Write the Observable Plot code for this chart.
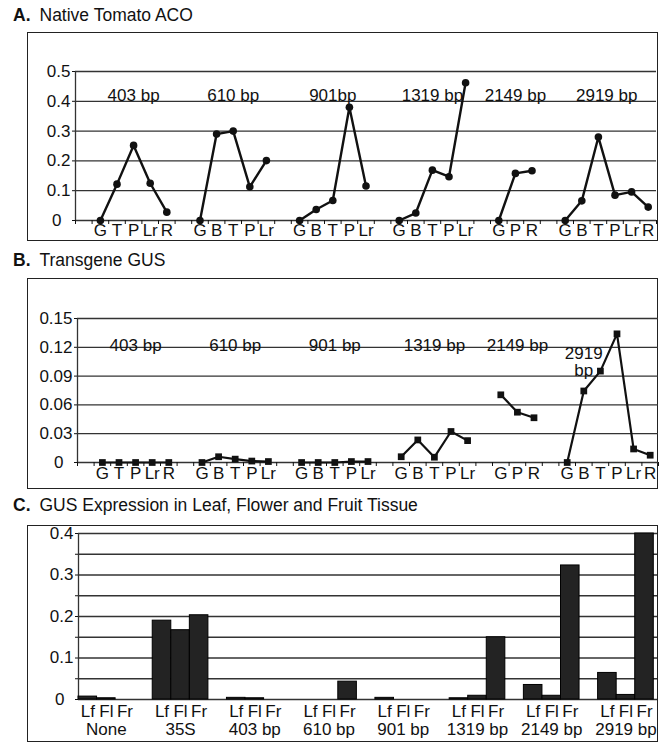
<!DOCTYPE html>
<html><head><meta charset="utf-8">
<script src="https://cdn.jsdelivr.net/npm/d3@7"></script>
<script src="https://cdn.jsdelivr.net/npm/@observablehq/plot@0.6"></script>
<style>
body{margin:0;background:#fff;font-family:"Liberation Sans",Arial,Helvetica,sans-serif;}
#root{position:relative;width:669px;height:742px;overflow:hidden;background:#fff;}
.title{position:absolute;left:13px;font-size:17.5px;line-height:18px;color:#111;white-space:nowrap;}
.title b{margin-right:9px;}
.box{position:absolute;left:27px;width:631px;border:1.5px solid #222;box-sizing:border-box;}
.plot{position:absolute;left:0;}
</style></head><body><div id="root"></div>
<script>
// ---------- data ----------
const groups = ["403 bp", "610 bp", "901 bp", "1319 bp", "2149 bp", "2919 bp"];
const groupLabelsA = ["403 bp", "610 bp", "901bp", "1319 bp", "2149 bp", "2919 bp"];
const groupLabelsB = ["403 bp", "610 bp", "901 bp", "1319 bp", "2149 bp", "2919\nbp"];
const tissues403 = ["G", "T", "P", "Lr", "R"];
const tissues610 = ["G", "B", "T", "P", "Lr"];
const tissues901 = ["G", "B", "T", "P", "Lr"];
const tissues1319 = ["G", "B", "T", "P", "Lr"];
const tissues2149 = ["G", "P", "R"];
const tissues2919 = ["G", "B", "T", "P", "Lr", "R"];

// A. Native tomato ACO
const aco403 = [0, 0.122, 0.252, 0.125, 0.028];
const aco610 = [0, 0.29, 0.30, 0.113, 0.201];
const aco901 = [0, 0.037, 0.067, 0.38, 0.116];
const aco1319 = [0, 0.025, 0.169, 0.147, 0.462];
const aco2149 = [0, 0.158, 0.167];
const aco2919 = [0, 0.066, 0.28, 0.085, 0.096, 0.045];

// B. Transgene GUS
const gus403 = [0, 0, 0, 0, 0];
const gus610 = [0, 0.006, 0.0035, 0.0015, 0.001];
const gus901 = [0, 0, 0, 0.001, 0.001];
const gus1319 = [0.006, 0.0235, 0.0055, 0.0323, 0.0228];
const gus2149 = [0.0705, 0.0524, 0.0466];
const gus2919 = [0, 0.0745, 0.0952, 0.134, 0.0141, 0.0076];

const yTicksA = [0, 0.1, 0.2, 0.3, 0.4, 0.5];
const yLabelsA = ["0", "0.1", "0.2", "0.3", "0.4", "0.5"];
const yTicksB = [0, 0.03, 0.06, 0.09, 0.12, 0.15];
const yLabelsB = ["0", "0.03", "0.06", "0.09", "0.12", "0.15"];

// C. GUS expression in leaf, flower and fruit
const constructsC = ["None", "35S", "403 bp", "610 bp", "901 bp", "1319 bp", "2149 bp", "2919 bp"];
const organsC = ["Lf", "Fl", "Fr"];
const leafC = [0.007, 0.19, 0.004, 0, 0.004, 0.003, 0.035, 0.064];
const flowerC = [0.003, 0.167, 0.003, 0, 0, 0.009, 0.009, 0.011];
const fruitC = [0, 0.203, 0, 0.043, 0, 0.150, 0.323, 0.40];
const yTicksC = [0, 0.1, 0.2, 0.3, 0.4];
const yLabelsC = ["0", "0.1", "0.2", "0.3", "0.4"];
const yGridC = [0, 0.05, 0.1, 0.15, 0.2, 0.25, 0.3, 0.35, 0.4];

// ---------- helpers ----------
const tissueLists = [tissues403, tissues610, tissues901, tissues1319, tissues2149, tissues2919];
function buildSlots(valueLists, labels) {
  let slot = 1; const pts = []; const centers = [];
  groups.forEach((g, gi) => {
    const start = slot;
    tissueLists[gi].forEach((t, ti) => {
      pts.push({group: g, tissue: t, x: slot + 0.5, v: valueLists[gi][ti]});
      slot++;
    });
    centers.push({label: labels[gi], x: (start + slot) / 2});
    slot++;
  });
  return {pts, centers, n: slot - 1};
}
const font = {fontFamily: '"Liberation Sans", Arial, Helvetica, sans-serif', fontSize: "17px", color: "#111", background: "transparent", overflow: "visible"};

const root = document.getElementById("root");
function addTitle(letter, text, top) {
  const d = document.createElement("div");
  d.className = "title"; d.style.top = top + "px";
  d.innerHTML = "<b>" + letter + "</b>" + text;
  root.appendChild(d);
}
function addBox(top, h) {
  const d = document.createElement("div");
  d.className = "box"; d.style.top = top + "px"; d.style.height = h + "px";
  root.appendChild(d);
}
function addPlot(svg, top) {
  svg.classList.add("plot"); svg.style.top = top + "px";
  root.appendChild(svg);
}

function linePanel(valueLists, labels, yTicks, yLabels, opt) {
  const {pts, centers, n} = buildSlots(valueLists, labels);
  const tissueByX = new Map(pts.map(d => [d.x, d.tissue]));
  const labOf = d => yLabels[yTicks.indexOf(d)];
  const single = centers.filter(c => !c.label.includes("\n"));
  const multi = centers.filter(c => c.label.includes("\n"));
  return Plot.plot({
    width: 669, height: opt.height,
    marginLeft: opt.ml, marginRight: opt.mr, marginTop: opt.mt, marginBottom: opt.mb,
    x: {domain: [0, n]}, y: {domain: [0, yTicks[yTicks.length - 1]]},
    style: font,
    marks: [
      Plot.ruleY(yTicks, {stroke: "#333", strokeWidth: 1.3}),
      Plot.ruleX([0], {stroke: "#333", strokeWidth: 1.3}),
      Plot.axisY(yTicks.slice(1), {label: null, tickSize: 3, tickPadding: 2, tickFormat: labOf}),
      Plot.axisY([0], {label: null, tickSize: 3, tickPadding: 11, tickFormat: labOf}),
      Plot.axisX(d3.range(0, n + 1), {label: null, tickSize: 4, tickFormat: () => ""}),
      Plot.axisX(pts.map(d => d.x), {label: null, tickSize: 0, tickPadding: opt.xpad, tickFormat: d => tissueByX.get(d)}),
      Plot.line(pts, {x: "x", y: "v", z: "group", stroke: "#111", strokeWidth: opt.sw}),
      Plot.dot(pts, {x: "x", y: "v", fill: "#111", stroke: "none", symbol: opt.symbol, r: opt.r}),
      Plot.text(single, {x: "x", frameAnchor: "top", dy: opt.labelDy, text: "label", fill: "#111"}),
      Plot.text(multi, {x: "x", frameAnchor: "top", dy: opt.labelDy + 8, dx: -25, text: "label", fill: "#111", lineHeight: 1.02})
    ]
  });
}

// ---------- Panel A ----------
addTitle("A.", "Native Tomato ACO", 6);
addBox(32, 209);
addPlot(linePanel([aco403, aco610, aco901, aco1319, aco2149, aco2919], groupLabelsA, yTicksA, yLabelsA,
  {height: 209, ml: 75, mr: 13, mt: 39, mb: 21, xpad: 3, sw: 2.4, symbol: "circle", r: 3.8, labelDy: 17}), 32);

// ---------- Panel B ----------
addTitle("B.", "Transgene GUS", 251);
addBox(278, 211);
addPlot(linePanel([gus403, gus610, gus901, gus1319, gus2149, gus2919], groupLabelsB, yTicksB, yLabelsB,
  {height: 211, ml: 77, mr: 11, mt: 40, mb: 27, xpad: 4, sw: 2.2, symbol: "square", r: 3.8, labelDy: 20}), 278);

// ---------- Panel C ----------
addTitle("C.", "GUS Expression in Leaf, Flower and Fruit Tissue", 496);
addBox(525, 217);
const organValues = [leafC, flowerC, fruitC];
const barsC = [];
constructsC.forEach((c, gi) => organsC.forEach((o, oi) => {
  barsC.push({construct: c, organ: o, x1: gi * 4 + oi, x2: gi * 4 + oi + 1, v: organValues[oi][gi]});
}));
const organByX = new Map(barsC.map(d => [d.x1 + 0.5, d.organ]));
const constructByX = new Map(constructsC.map((c, gi) => [gi * 4 + 1.5, c]));
const labC = d => yLabelsC[yTicksC.indexOf(d)];
addPlot(Plot.plot({
  width: 669, height: 216,
  marginLeft: 78, marginRight: 12, marginTop: 8, marginBottom: 42,
  x: {domain: [0, 31.2]}, y: {domain: [0, 0.4]},
  style: font,
  marks: [
    Plot.ruleY(yGridC, {stroke: "#333", strokeWidth: 1.3}),
    Plot.ruleX([0], {stroke: "#333", strokeWidth: 1.3}),
    Plot.axisY(yTicksC.slice(1), {label: null, tickSize: 3, tickPadding: 2, tickFormat: labC}),
    Plot.axisY([0], {label: null, tickSize: 3, tickPadding: 11, tickFormat: labC}),
    Plot.axisY(yGridC.filter(d => !yTicksC.includes(d)), {label: null, tickSize: 3, tickFormat: () => ""}),
    Plot.rectY(barsC.filter(d => d.v > 0), {x1: "x1", x2: "x2", y1: 0, y2: "v", fill: "#232323", stroke: "#000", strokeWidth: 1}),
    Plot.axisX([...organByX.keys()], {label: null, tickSize: 0, tickPadding: 5, tickFormat: d => organByX.get(d)}),
    Plot.axisX([...constructByX.keys()], {label: null, tickSize: 0, tickPadding: 23, tickFormat: d => constructByX.get(d)})
  ]
}), 525);
</script>
</body></html>
